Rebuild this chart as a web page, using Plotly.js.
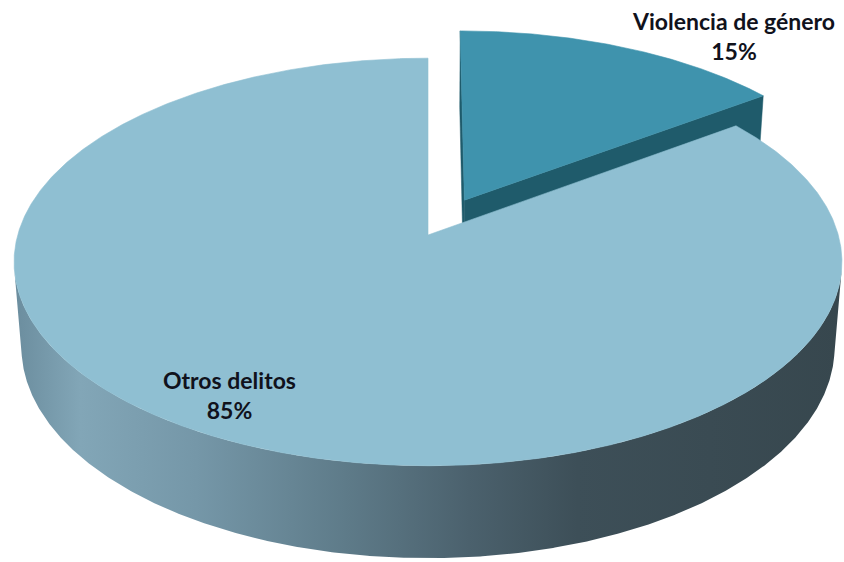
<!DOCTYPE html>
<html>
<head>
<meta charset="utf-8">
<script src="https://cdn.plot.ly/plotly-3.0.1.min.js"></script>
<style>
  html, body { margin: 0; padding: 0; background: #ffffff; }
  #chart { width: 844px; height: 562px; }
</style>
</head>
<body>
<div id="chart"></div>
<script>
// ---------- data ----------
const labels = ['Violencia de género', 'Otros delitos'];
const values = [15, 85];

// ---------- styles ----------
const sliceStyle = [
  { top: '#3f93ad', side: '#1f5b6b', pull: 0.2 },
  { top: '#8fbfd2', side: '#4a6270', pull: 0,
    sideScale: [[0, '#6b8d9e'], [0.08, '#82a6b7'], [0.22, '#7597a8'], [0.4, '#5e7b89'],
                [0.55, '#4b616d'], [0.68, '#3d4f58'], [1, '#37474e']] }
];
const labelPos = [ { x: 733, y: 36 }, { x: 229, y: 395 } ];
const labelFont = { family: 'Lato, "Open Sans", sans-serif', size: 23, color: '#10121c' };

// ---------- 3D projection (camera) ----------
const CAM = { cx: 428, cy: 235, F: 2708, D: 6.6, phi: Math.asin(0.488), h: 0.24 };
const sP = Math.sin(CAM.phi), cP = Math.cos(CAM.phi);
function proj(X, Y, Z) {
  const d = CAM.D - (Y * sP + Z * cP);
  return [CAM.cx + CAM.F * X / d, CAM.cy - CAM.F * (Y * cP - Z * sP) / d];
}
const camX = 0, camZ = CAM.D * cP;

const total = values.reduce((a, b) => a + b, 0);
let cum = 0;
const slices = values.map((v, i) => {
  const a0 = cum / total * 2 * Math.PI;
  cum += v;
  const a1 = cum / total * 2 * Math.PI;
  const mid = (a0 + a1) / 2;
  const p = sliceStyle[i].pull;
  const ox = p * Math.sin(mid), oz = -p * Math.cos(mid);
  return { i, a0, a1, mid, ox, oz, depth: oz - 0.5 * Math.cos(mid) };
});
slices.sort((a, b) => a.depth - b.depth);

function rim(th, s, Y) { return proj(s.ox + Math.sin(th), Y, s.oz - Math.cos(th)); }
function poly(pts) { return { x: pts.map(p => p[0]).concat([pts[0][0]]), y: pts.map(p => p[1]).concat([pts[0][1]]) }; }

const traces = [];
const STEP = Math.PI / 720;
slices.forEach(s => {
  const st = sliceStyle[s.i];
  const h = CAM.h;
  // radial walls
  [[s.a0, -1], [s.a1, 1]].forEach(([ang, sign]) => {
    const nx = sign * Math.cos(ang), nz = sign * Math.sin(ang);
    const dot = nx * (camX - s.ox) + nz * (camZ - s.oz);
    if (dot > 1e-6) {
      const P = poly([proj(s.ox, 0, s.oz), rim(ang, s, 0), rim(ang, s, -h), proj(s.ox, -h, s.oz)]);
      traces.push({ type: 'scatter', mode: 'lines', x: P.x, y: P.y, fill: 'toself',
        fillcolor: st.side, line: { width: 0.5, color: st.side }, hoverinfo: 'skip' });
    }
  });
  // outer wall (visible runs)
  const n = Math.max(2, Math.ceil((s.a1 - s.a0) / STEP));
  let run = [];
  const runs = [];
  for (let k = 0; k <= n; k++) {
    const th = s.a0 + (s.a1 - s.a0) * k / n;
    const px = s.ox + Math.sin(th), pz = s.oz - Math.cos(th);
    const vis = Math.sin(th) * (camX - px) + (-Math.cos(th)) * (camZ - pz) > 0;
    if (vis) run.push(th); else if (run.length) { runs.push(run); run = []; }
  }
  if (run.length) runs.push(run);
  runs.forEach(r => {
    if (r.length < 2) return;
    const topArc = r.map(th => rim(th, s, 0));
    const botArc = r.slice().reverse().map(th => rim(th, s, -h));
    const P = poly(topArc.concat(botArc));
    const tr = { type: 'scatter', mode: 'lines', x: P.x, y: P.y, fill: 'toself',
      fillcolor: st.side, line: { width: 0 }, hoverinfo: 'skip' };
    if (st.sideScale) tr.fillgradient = { type: 'horizontal', colorscale: st.sideScale };
    traces.push(tr);
  });
  // top face
  const arc = [];
  for (let k = 0; k <= n; k++) arc.push(rim(s.a0 + (s.a1 - s.a0) * k / n, s, 0));
  const T = poly([proj(s.ox, 0, s.oz)].concat(arc));
  traces.push({ type: 'scatter', mode: 'lines', x: T.x, y: T.y, fill: 'toself',
    fillcolor: st.top, line: { width: 0.6, color: st.top }, hoverinfo: 'skip' });
});

const annotations = values.map((v, i) => ({
  x: labelPos[i].x, y: labelPos[i].y, xref: 'x', yref: 'y',
  text: '<b>' + labels[i] + '</b><br><b>' + Math.round(v / total * 100) + '%</b>',
  showarrow: false, xanchor: 'center', yanchor: 'middle', align: 'center', font: labelFont
}));

const layout = {
  width: 844, height: 562,
  margin: { l: 0, r: 0, t: 0, b: 0 },
  paper_bgcolor: '#ffffff', plot_bgcolor: '#ffffff',
  showlegend: false, hovermode: false,
  xaxis: { range: [0, 844], visible: false, fixedrange: true },
  yaxis: { range: [562, 0], visible: false, fixedrange: true },
  annotations
};
Plotly.newPlot('chart', traces, layout, { staticPlot: true, displayModeBar: false });
</script>
</body>
</html>
